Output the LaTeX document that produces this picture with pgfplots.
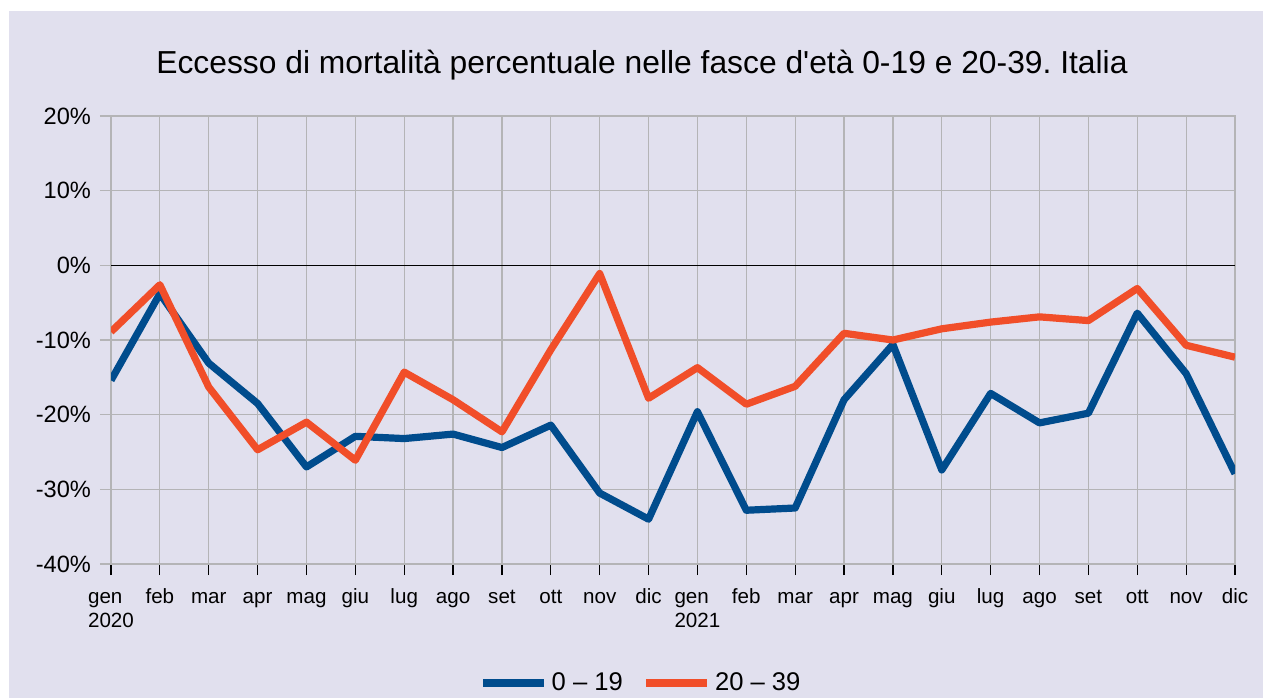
\documentclass[border=0pt]{standalone}
\usepackage{pgfplots}
\pgfplotsset{compat=1.18}
\usepackage{fontspec}
\setmainfont{Liberation Sans}
\frenchspacing
\definecolor{bg}{RGB}{225,224,238}
\definecolor{cblue}{RGB}{0,76,141}
\definecolor{corange}{RGB}{241,78,41}
\definecolor{cgrid}{RGB}{180,180,182}

\pgfplotstableread{
x a b
0 -15.4 -8.9
1 -3.8 -2.6
2 -13.1 -16.3
3 -18.5 -24.7
4 -27.0 -21.0
5 -22.9 -26.1
6 -23.2 -14.3
7 -22.6 -18.0
8 -24.4 -22.3
9 -21.4 -11.3
10 -30.5 -1.1
11 -34.0 -17.8
12 -19.6 -13.7
13 -32.8 -18.6
14 -32.5 -16.2
15 -18.0 -9.1
16 -10.6 -10.0
17 -27.4 -8.5
18 -17.15 -7.6
19 -21.1 -6.9
20 -19.8 -7.4
21 -6.4 -3.1
22 -14.5 -10.7
23 -27.9 -12.3
}\datatable

\begin{document}
\begin{tikzpicture}
\fill[white] (0pt,0pt) rectangle (631.5pt,349pt);
\fill[bg] (4.5pt,0pt) rectangle (631.5pt,343.5pt);
\useasboundingbox (0pt,0pt) rectangle (631.5pt,349pt);
\node[font=\fontsize{15.9}{18}\selectfont] at (321pt,316.5pt) {Eccesso di mortalità percentuale nelle fasce d\textquotesingle età 0-19 e 20-39. Italia};
\begin{axis}[
  at={(55.5pt,67pt)}, anchor=south west,
  scale only axis, width=562pt, height=224pt,
  xmin=0, xmax=23, ymin=-40, ymax=20,
  ytick={-40,-30,...,20},
  yticklabel={\pgfmathprintnumber{\tick}\%},
  xtick={0,...,23},
  xticklabels={{\strut gen\\2020},\strut feb,\strut mar,\strut apr,\strut mag,\strut giu,\strut lug,\strut ago,\strut set,\strut ott,\strut nov,\strut dic,{\strut gen\\2021},\strut feb,\strut mar,\strut apr,\strut mag,\strut giu,\strut lug,\strut ago,\strut set,\strut ott,\strut nov,\strut dic},
  xticklabel style={align=left, font=\fontsize{10.3}{12}\selectfont, anchor=north, yshift=-2.5pt},
  yticklabel style={font=\fontsize{11.8}{14}\selectfont, xshift=-1pt},
  /pgf/number format/assume math mode=true,
  tick align=outside,
  major tick length=5.5pt,
  xtick pos=bottom, ytick pos=left,
  xtick style={black, line width=0.6pt},
  ytick style={cgrid, line width=0.6pt},
  grid=major,
  major grid style={cgrid, line width=0.6pt},
  axis line style={cgrid, line width=0.6pt},
  axis background/.style={fill=bg},
  legend style={at={(0.4724,-0.2656)}, anchor=center, draw=none, fill=none,
    font=\fontsize{12.8}{15}\selectfont,
    /tikz/every even column/.append style={column sep=8pt}},
  legend columns=2,
  legend image code/.code={\draw[#1] (0pt,0pt) -- (30.5pt,0pt);},
]
\draw[black, line width=0.6pt] (axis cs:0,0) -- (axis cs:23,0);
\addplot[cblue, line width=3.6pt, line join=round] table[x=x, y=a] {\datatable};
\addlegendentry{0 – 19}
\addplot[corange, line width=3.6pt, line join=round] table[x=x, y=b] {\datatable};
\addlegendentry{20 – 39}
\end{axis}
\end{tikzpicture}
\end{document}
